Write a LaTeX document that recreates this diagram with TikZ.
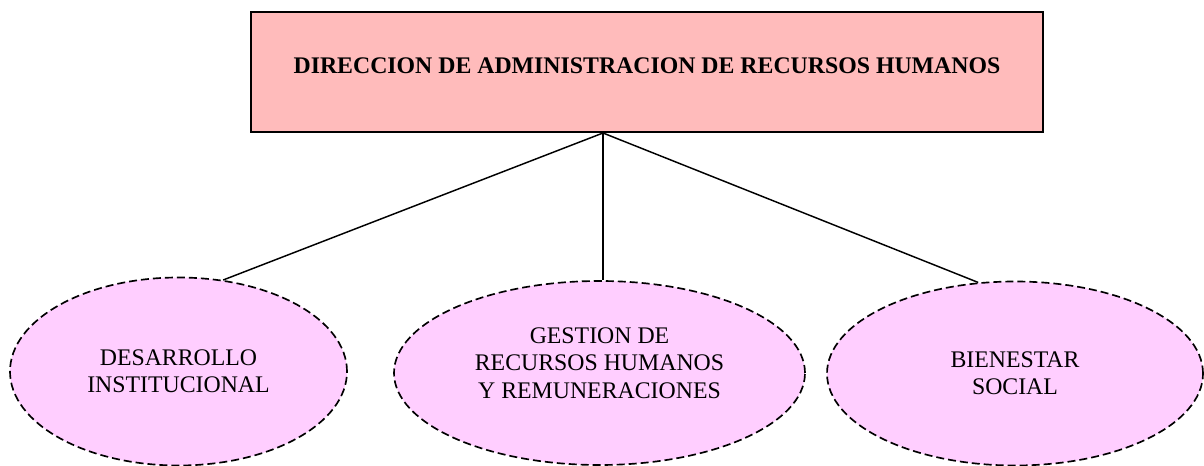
\documentclass[tikz,border=0pt]{standalone}
\usepackage{fontspec}
\setmainfont{Liberation Serif}
\usepackage{tikz}
\usetikzlibrary{shapes,positioning}
\definecolor{boxpink}{RGB}{255,187,187}
\definecolor{ovalpink}{RGB}{255,206,255}
\tikzstyle{dirbox} = [rectangle, draw=black, line width=1.5pt, fill=boxpink, minimum width=594pt, minimum height=90pt, inner sep=0pt, text depth=9.5pt, font=\fontsize{17.85}{20.5}\selectfont\bfseries]
\tikzstyle{unit}   = [ellipse, draw=black, line width=1.25pt, dash pattern=on 6pt off 3pt, fill=ovalpink, inner sep=0pt, align=center, font=\fontsize{17.85}{20.5}\selectfont]
\tikzstyle{link}   = [line width=1.1pt]

\begin{document}
\begin{tikzpicture}[x=0.75pt,y=-0.75pt]
    \useasboundingbox (0,0) rectangle (1204,466);

    \node[dirbox] (dir) at (647,72) {DIRECCION DE ADMINISTRACION DE RECURSOS HUMANOS};

    \node[unit, minimum width=252.75pt, minimum height=141pt] (desa) at (178.5,371.5) {DESARROLLO\\INSTITUCIONAL};
    \node[unit, minimum width=308.25pt, minimum height=138pt, text depth=15pt] (gest) at (599.5,373) {GESTION DE\\RECURSOS HUMANOS\\Y REMUNERACIONES};
    \node[unit, minimum width=282pt, minimum height=138pt] (bien) at (1015,373.5) {BIENESTAR\\SOCIAL};

    \coordinate (top) at (603,133);
    \draw[link] (top) -- (desa.64);
    \draw[link] (top) -- (top |- gest.north);
    \draw[link] (top) -- (bien.112);
\end{tikzpicture}
\end{document}
